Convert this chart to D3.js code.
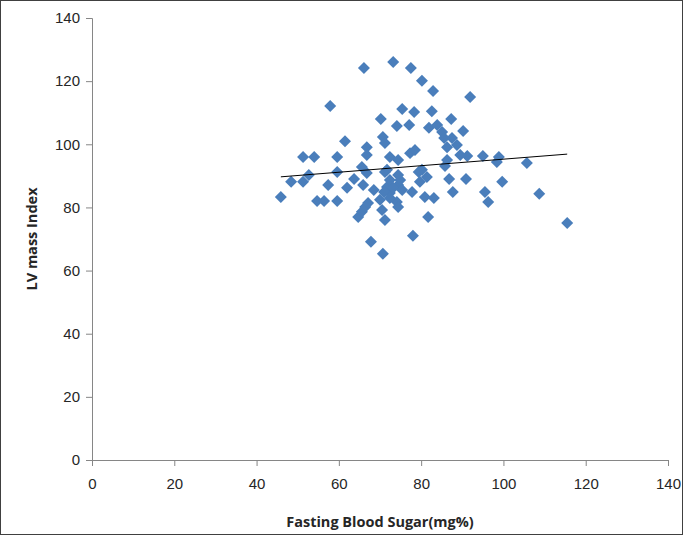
<!DOCTYPE html>
<html>
<head>
<meta charset="utf-8">
<script src="https://cdn.jsdelivr.net/npm/d3@7"></script>
<style>
  body { margin: 0; background: #fff; }
  svg { display: block; font-family: "Open Sans", "Noto Sans", sans-serif; }
</style>
</head>
<body>
<div id="chart"></div>
<script>
// fasting blood sugar (mg%) per patient
var fbs = [45.9, 48.4, 51.3, 54.0, 51.3, 52.7, 54.7, 56.4, 57.4, 59.6,
  59.6, 59.6, 61.5, 57.9, 62.0, 63.7, 64.7, 65.6, 65.6, 65.9,
  66.4, 66.8, 66.8, 66.8, 67.1, 67.8, 66.1, 70.2, 70.7, 71.2,
  71.2, 71.7, 70.5, 71.2, 70.7, 72.4, 72.4, 73.2, 74.1, 74.4,
  74.4, 74.4, 74.1, 75.4, 77.1, 77.3, 78.5, 77.5, 78.3, 77.8,
  78.0, 80.2, 80.2, 81.4, 80.9, 81.7, 81.9, 82.6, 82.9, 83.1,
  83.9, 85.1, 85.6, 87.5, 87.3, 88.7, 86.3, 85.8, 86.8, 87.7,
  90.2, 91.2, 91.9, 90.9, 95.0, 98.9, 98.4, 99.7, 95.5, 96.3,
  105.7, 108.7, 115.5, 71.7, 72.4, 74.9, 71.0, 73.2, 75.4, 72.4,
  74.4, 79.7, 89.5, 68.5, 70.0, 86.3, 79.4];

// LV mass index per patient
var lvmi = [83.3, 88.1, 96.0, 96.0, 88.1, 90.3, 82.0, 82.0, 87.1, 96.0,
  91.2, 82.0, 101.0, 112.1, 86.2, 89.0, 77.0, 92.8, 78.6, 87.1,
  80.1, 99.1, 96.6, 90.9, 81.4, 69.1, 124.2, 108.0, 102.3, 100.4,
  91.2, 86.5, 79.2, 76.0, 65.3, 96.0, 84.6, 126.1, 105.8, 95.0,
  90.3, 87.1, 81.7, 111.2, 106.1, 97.2, 98.2, 124.2, 110.2, 84.9,
  71.0, 120.1, 91.9, 89.6, 83.3, 77.0, 105.2, 110.5, 116.9, 83.0,
  106.1, 103.9, 102.0, 102.0, 108.0, 99.8, 95.0, 93.1, 89.0, 84.9,
  104.2, 96.3, 115.0, 89.0, 96.3, 96.0, 94.4, 88.1, 84.9, 81.7,
  94.1, 84.3, 75.1, 91.9, 88.7, 88.7, 84.9, 86.2, 85.5, 83.0,
  80.1, 88.1, 96.6, 85.5, 82.4, 99.1, 91.2];

var xTicks = [0, 20, 40, 60, 80, 100, 120, 140];
var yTicks = [0, 20, 40, 60, 80, 100, 120, 140];

var width = 685, height = 537;
var margin = {top: 18, right: 17, bottom: 77, left: 92};

var svg = d3.select("#chart").append("svg")
  .attr("width", width)
  .attr("height", height);

// outer frame
svg.append("rect")
  .attr("x", 0.5).attr("y", 0.5)
  .attr("width", width - 3).attr("height", height - 3)
  .attr("fill", "none")
  .attr("stroke", "#404040");

var x = d3.scaleLinear().domain([0, 140]).range([margin.left, width - margin.right]);
var y = d3.scaleLinear().domain([0, 140]).range([height - margin.bottom, margin.top]);

var xAxis = svg.append("g")
  .attr("transform", "translate(0," + y(0) + ")")
  .call(d3.axisBottom(x).tickValues(xTicks).tickSize(6).tickPadding(12));

var yAxis = svg.append("g")
  .attr("transform", "translate(" + x(0) + ",0)")
  .call(d3.axisLeft(y).tickValues(yTicks).tickSize(6).tickPadding(6));

[xAxis, yAxis].forEach(function(g) {
  g.select(".domain").attr("stroke", "#868686");
  g.selectAll(".tick line").attr("stroke", "#868686");
  g.selectAll(".tick text")
    .attr("fill", "#262626")
    .style("font-size", "15px");
});

// axis titles
svg.append("text")
  .attr("x", (x(0) + x(140)) / 2)
  .attr("y", 527)
  .attr("text-anchor", "middle")
  .style("font-size", "14.5px")
  .style("font-weight", "bold")
  .attr("fill", "#262626")
  .text("Fasting Blood Sugar(mg%)");

svg.append("text")
  .attr("transform", "translate(37," + (y(70)) + ") rotate(-90)")
  .attr("text-anchor", "middle")
  .style("font-size", "14.5px")
  .style("font-weight", "bold")
  .attr("fill", "#262626")
  .text("LV mass Index");

var data = fbs.map(function(v, i) { return {x: v, y: lvmi[i]}; });

// linear trend line (least squares)
var mx = d3.mean(data, d => d.x),
  my = d3.mean(data, d => d.y);
var slope = d3.sum(data, d => (d.x - mx) * (d.y - my)) / d3.sum(data, d => (d.x - mx) * (d.x - mx));
var icpt = my - slope * mx;
var ext = d3.extent(data, d => d.x);

// points
var diamond = d3.symbol().type(d3.symbolSquare).size(72);
svg.append("g").selectAll("path")
  .data(data)
  .join("path")
    .attr("d", diamond)
    .attr("transform", d => "translate(" + x(d.x) + "," + y(d.y) + ") rotate(45)")
    .attr("fill", "#4a7ebb");

svg.append("line")
  .attr("x1", x(ext[0])).attr("y1", y(icpt + slope * ext[0]))
  .attr("x2", x(ext[1])).attr("y2", y(icpt + slope * ext[1]))
  .attr("stroke", "#000")
  .attr("stroke-width", 1);
</script>
</body>
</html>
